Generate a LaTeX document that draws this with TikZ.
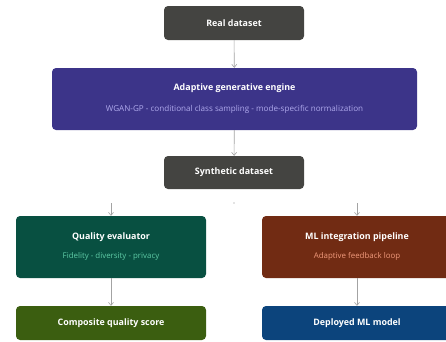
\documentclass[tikz,border=0pt]{standalone}
\usepackage{fontspec}
\setmainfont{Open Sans}
\usepackage{tikz}
\usetikzlibrary{shapes,arrows.meta,positioning,calc}
\usepackage{xcolor}

\definecolor{realgray}{HTML}{444441}
\definecolor{enginepurple}{HTML}{3C3489}
\definecolor{enginesub}{HTML}{AFA9EC}
\definecolor{evalgreen}{HTML}{085041}
\definecolor{evalsub}{HTML}{5DCAA5}
\definecolor{pipebrown}{HTML}{712B13}
\definecolor{pipesub}{HTML}{F0997B}
\definecolor{scoregreen}{HTML}{3B5E10}
\definecolor{modelblue}{HTML}{0C447C}
\definecolor{linkgray}{HTML}{A3A3A3}

\begin{document}
\begin{tikzpicture}[
    x=1pt, y=-1pt,
    block/.style={rectangle, rounded corners=4pt, draw=none, text=white, align=center,
        font=\fontsize{8.9}{10}\selectfont\bfseries, inner sep=0pt},
    small/.style={minimum width=140pt, minimum height=34pt},
    wide/.style={minimum width=190pt, minimum height=62pt},
    flat/.style={minimum width=190pt, minimum height=34pt},
    link/.style={draw=linkgray, line width=0.6pt, -{Straight Barb[length=3pt,width=5pt]}}
]
\useasboundingbox (0,0) rectangle (446,341);

\node[block, small, fill=realgray] (real) at (234, 23) {Real dataset};
\node[block, fill=enginepurple, minimum width=365pt, minimum height=62pt] (engine) at (234.5, 99)
    {Adaptive generative engine\\[11pt]
     {\fontsize{8.1}{9}\selectfont\mdseries\color{enginesub}WGAN-GP - conditional class sampling - mode-specific normalization}};
\node[block, small, fill=realgray, minimum height=33pt] (synth) at (234, 172.5) {Synthetic dataset};

\node[block, wide, fill=evalgreen] (eval) at (111, 247)
    {Quality evaluator\\[9pt]
     {\fontsize{7.9}{9}\selectfont\mdseries\color{evalsub}Fidelity - diversity - privacy}};
\node[block, wide, fill=pipebrown] (pipe) at (357, 247)
    {ML integration pipeline\\[9pt]
     {\fontsize{7.9}{9}\selectfont\mdseries\color{pipesub}Adaptive feedback loop}};

\node[block, flat, fill=scoregreen] (score) at (111, 323) {Composite quality score};
\node[block, flat, fill=modelblue] (model) at (357, 323) {Deployed ML model};

% stubs feeding the two branches
\coordinate (evalin) at (111, 203);
\coordinate (pipein) at (357, 203);
\fill[linkgray!60] (234, 203) circle (0.9pt);

\draw[link] (real) -- (engine);
\draw[link] (engine) -- (synth);
\draw[link] (evalin) -- (eval);
\draw[link] (pipein) -- (pipe);
\draw[link] (eval) -- (score);
\draw[link] (pipe) -- (model);

\end{tikzpicture}
\end{document}
